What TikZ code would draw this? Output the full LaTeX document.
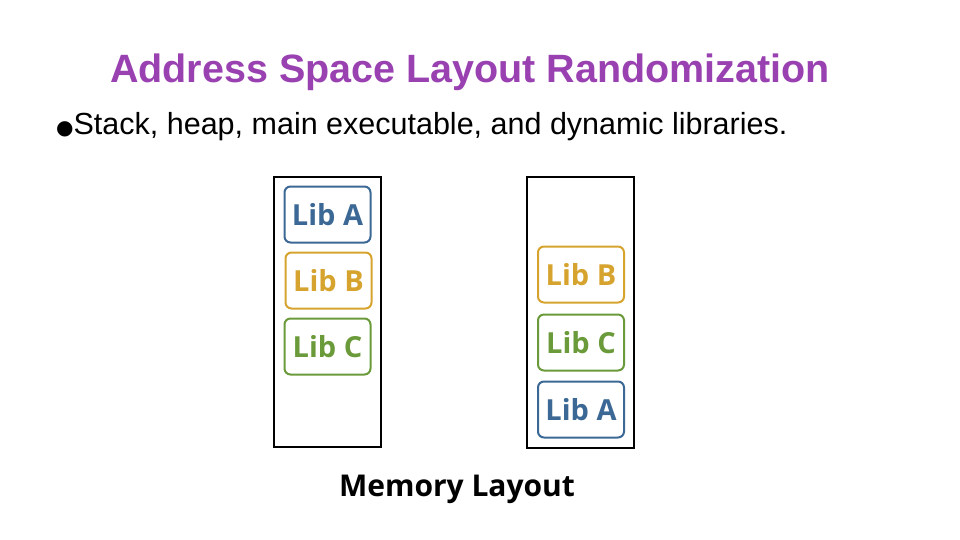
\documentclass[tikz,border=0pt]{standalone}
\usepackage{fontspec}
\setmainfont{Liberation Sans}
\setsansfont{Open Sans}
\newfontfamily\symfont{DejaVu Sans}
\usetikzlibrary{positioning}
\definecolor{aslrpurple}{RGB}{153, 65, 176}
\definecolor{libblue}{RGB}{59, 104, 148}
\definecolor{libyellow}{RGB}{214, 164, 46}
\definecolor{libgreen}{RGB}{106, 154, 58}
\tikzstyle{memnode} = [rectangle, draw=black, line width=2pt, minimum width=107pt, minimum height=270pt, inner sep=0pt]
\tikzstyle{libnode} = [rectangle, rounded corners=6pt, line width=2pt, minimum width=86pt, minimum height=56pt, inner sep=0pt, font=\fontsize{29}{29}\selectfont\sffamily\bfseries]

\begin{document}
\begin{tikzpicture}[x=1pt, y=-1pt]
        \useasboundingbox (0,0) rectangle (960,540);
        % Title and bullet
        \node[text=aslrpurple, font=\fontsize{39.5}{40}\selectfont\bfseries] (title) at (470,72) {Address Space Layout Randomization};
        \node[anchor=west, inner sep=0pt, font=\fontsize{30.5}{31}\selectfont] (bullet) at (56,127) {{\symfont\fontsize{20}{20}\selectfont●}Stack, heap, main executable, and dynamic libraries.};

        % Memory columns
        \node[memnode] (memleft) at (327.5,312) {};
        \node[memnode] (memright) at (580.5,312.5) {};

        % Libraries, left column
        \node[libnode, draw=libblue, text=libblue] (lefta) at (327.5,214.5) {Lib A};
        \node[libnode, draw=libyellow, text=libyellow] (leftb) at (328.5,280.5) {Lib B};
        \node[libnode, draw=libgreen, text=libgreen] (leftc) at (327.5,346.5) {Lib C};

        % Libraries, right column
        \node[libnode, draw=libyellow, text=libyellow] (rightb) at (581,274.5) {Lib B};
        \node[libnode, draw=libgreen, text=libgreen] (rightc) at (581,342.5) {Lib C};
        \node[libnode, draw=libblue, text=libblue] (righta) at (581,409.5) {Lib A};

        % Caption
        \node[font=\fontsize{30}{30}\selectfont\sffamily\bfseries] (caption) at (457,489) {Memory Layout};
    \end{tikzpicture}
\end{document}
